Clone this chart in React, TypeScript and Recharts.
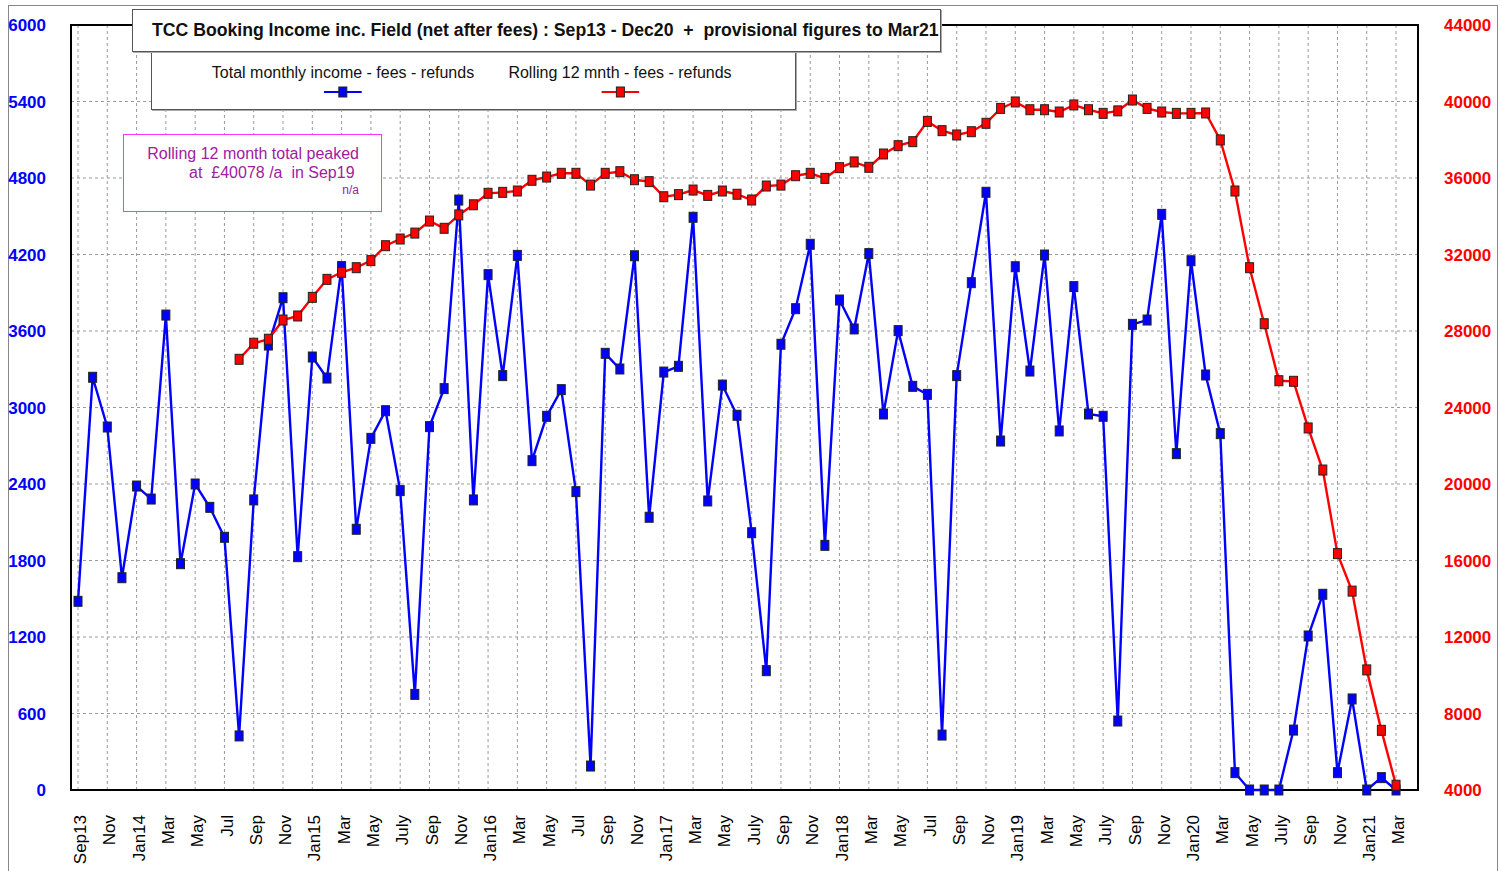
import React from "react";
import { LineChart, Line, XAxis, YAxis, CartesianGrid, ReferenceArea, Legend } from "recharts";

const months = [
  "Sep13", "Oct13", "Nov13", "Dec13",
  "Jan14", "Feb14", "Mar14", "Apr14", "May14", "Jun14", "Jul14", "Aug14", "Sep14", "Oct14", "Nov14", "Dec14",
  "Jan15", "Feb15", "Mar15", "Apr15", "May15", "Jun15", "Jul15", "Aug15", "Sep15", "Oct15", "Nov15", "Dec15",
  "Jan16", "Feb16", "Mar16", "Apr16", "May16", "Jun16", "Jul16", "Aug16", "Sep16", "Oct16", "Nov16", "Dec16",
  "Jan17", "Feb17", "Mar17", "Apr17", "May17", "Jun17", "Jul17", "Aug17", "Sep17", "Oct17", "Nov17", "Dec17",
  "Jan18", "Feb18", "Mar18", "Apr18", "May18", "Jun18", "Jul18", "Aug18", "Sep18", "Oct18", "Nov18", "Dec18",
  "Jan19", "Feb19", "Mar19", "Apr19", "May19", "Jun19", "Jul19", "Aug19", "Sep19", "Oct19", "Nov19", "Dec19",
  "Jan20", "Feb20", "Mar20", "Apr20", "May20", "Jun20", "Jul20", "Aug20", "Sep20", "Oct20", "Nov20", "Dec20",
  "Jan21", "Feb21", "Mar21",
];

const tickLabels = [
  "Sep13", "Nov",
  "Jan14", "Mar", "May", "Jul", "Sep", "Nov",
  "Jan15", "Mar", "May", "July", "Sep", "Nov",
  "Jan16", "Mar", "May", "Jul", "Sep", "Nov",
  "Jan17", "Mar", "May", "July", "Sep", "Nov",
  "Jan18", "Mar", "May", "Jul", "Sep", "Nov",
  "Jan19", "Mar", "May", "July", "Sep", "Nov",
  "Jan20", "Mar", "May", "July", "Sep", "Nov",
  "Jan21", "Mar",
];

const monthlyIncome = [
  1480, 3237, 2847, 1665,
  2384, 2282, 3725, 1775, 2400, 2217, 1982, 424, 2275, 3490, 3861, 1830,
  3396, 3231, 4105, 2045, 2758, 2975, 2348, 750, 2850, 3148, 4627, 2275,
  4042, 3250, 4193, 2583, 2931, 3140, 2340, 188, 3425, 3302, 4190, 2139,
  3278, 3323, 4492, 2267, 3176, 2939, 2018, 936, 3496, 3775, 4280, 1919,
  3843, 3616, 4207, 2949, 3603, 3166, 3103, 431, 3250, 3979, 4688, 2737,
  4104, 3286, 4196, 2816, 3948, 2949, 2931, 541, 3652, 3686, 4515, 2638,
  4151, 3255, 2795, 136, 0, 0, 0, 470, 1208, 1535, 136, 714,
  0, 97, 0,
];

const rolling12 = [
  null, null, null, null,
  null, null, null, null, null, null, null, 26520, 27360, 27570, 28575, 28785,
  29760, 30700, 31070, 31310, 31680, 32460, 32810, 33120, 33750, 33370, 34070, 34600,
  35200, 35250, 35320, 35880, 36050, 36245, 36245, 35630, 36245, 36330, 35910, 35810,
  35020, 35130, 35370, 35090, 35320, 35150, 34850, 35580, 35630, 36120, 36245, 35980,
  36540, 36840, 36560, 37255, 37690, 37900, 38960, 38475, 38250, 38420, 38860, 39640,
  39975, 39570, 39570, 39450, 39820, 39570, 39380, 39510, 40078, 39640, 39450, 39380,
  39380, 39400, 37990, 35320, 31310, 28380, 25400, 25370, 22930, 20730, 16360, 14400,
  10280, 7120, 4250,
];

const leftTicks = [0, 600, 1200, 1800, 2400, 3000, 3600, 4200, 4800, 5400, 6000];
const rightTicks = [4000, 8000, 12000, 16000, 20000, 24000, 28000, 32000, 36000, 40000, 44000];
const xTicks = tickLabels.map((_, i) => i * 2);

const titleText = "TCC Booking Income inc. Field (net after fees) : Sep13 - Dec20  +  provisional figures to Mar21";
const seriesNames = ["Total monthly income - fees - refunds", "Rolling 12 mnth - fees - refunds"];
const noteLines = ["Rolling 12 month total peaked", "at  £40078 /a  in Sep19 ", "n/a"];

const data = months.map((m, i) => ({
  idx: i,
  month: m,
  monthly: monthlyIncome[i],
  rolling: rolling12[i],
}));

const X_MIN = -0.478;
const X_MAX = 91.5;
const FONT = "'Liberation Sans', Arial, Helvetica, sans-serif";
const BLUE = "#0000FF";
const RED = "#FF0000";

const LeftTick = (props: any) => {
  const { x, y, payload } = props;
  return (
    <text x={x} y={y} dy="0.36em" textAnchor="end" fill={BLUE} fontSize={17} fontWeight="bold" fontFamily={FONT}>
      {payload.value}
    </text>
  );
};

const RightTick = (props: any) => {
  const { x, y, payload } = props;
  return (
    <text x={x} y={y} dy="0.36em" textAnchor="start" fill={RED} fontSize={17} fontWeight="bold" fontFamily={FONT}>
      {payload.value}
    </text>
  );
};

const BottomTick = (props: any) => {
  const { x, y, payload } = props;
  const label = tickLabels[Math.round(payload.value / 2)];
  return (
    <g transform={`translate(${x + 2},${y})`}>
      <text x={0} y={0} dy="0.36em" textAnchor="end" transform="rotate(-90)" fill="#000" fontSize={17} fontFamily={FONT}>
        {label}
      </text>
    </g>
  );
};

const makeDot = (fill: string) => (props: any) => {
  const { cx, cy, key, value } = props;
  if (cx == null || cy == null || value == null) return <g key={key} />;
  return <rect key={key} x={cx - 4} y={cy - 5} width={8} height={10} fill={fill} stroke="#222" strokeWidth={1} />;
};

const LegendMarker = ({ color }: { color: string }) => (
  <svg width={38} height={12} style={{ display: "block", margin: "0 auto" }}>
    <line x1={0} y1={6} x2={38} y2={6} stroke={color} strokeWidth={2} />
    <rect x={15} y={1} width={8} height={10} fill={color} stroke="#222" strokeWidth={1} />
  </svg>
);

const renderLegend = (props: any) => {
  const payload = props.payload || [];
  const ordered = seriesNames
    .map((n) => payload.find((p: any) => p.value === n))
    .filter((p: any) => p);
  const centers = [191, 468];
  return (
    <div style={{ position: "relative", width: 645, height: 58, background: "#fff", border: "1px solid #555", boxShadow: "1px 1px 0 #aaa", boxSizing: "border-box", fontFamily: FONT }}>
      {ordered.map((entry: any, i: number) => (
        <div key={i} style={{ position: "absolute", left: centers[i], top: 10, transform: "translateX(-50%)", whiteSpace: "nowrap", textAlign: "center" }}>
          <div style={{ fontSize: 16, color: "#111", lineHeight: "19px" }}>{entry.value}</div>
          <div style={{ marginTop: 4 }}>
            <LegendMarker color={entry.color} />
          </div>
        </div>
      ))}
    </div>
  );
};

export default function App() {
  return (
    <div style={{ position: "absolute", left: 0, top: 0, width: 1502, height: 871, background: "#fff", overflow: "hidden" }}>
      <div style={{ position: "absolute", left: 8, top: 5, width: 1488, height: 900, border: "1px solid #888" }} />
      <div style={{ position: "absolute", left: 0, top: 0 }}>
        <LineChart width={1502} height={871} data={data} margin={{ top: 25, right: 8, bottom: 6, left: 8 }}>
          <CartesianGrid yAxisId="left" stroke="#9a9a9a" strokeDasharray="3 3" vertical horizontal />
          <XAxis
            dataKey="idx"
            type="number"
            domain={[X_MIN, X_MAX]}
            ticks={xTicks}
            interval={0}
            height={75}
            tickSize={0}
            tickMargin={25}
            tickLine={false}
            axisLine={false}
            tick={<BottomTick />}
            allowDataOverflow
          />
          <YAxis
            yAxisId="left"
            orientation="left"
            domain={[0, 6000]}
            ticks={leftTicks}
            interval={0}
            width={63}
            tickSize={0}
            tickMargin={25}
            tickLine={false}
            axisLine={false}
            tick={<LeftTick />}
          />
          <YAxis
            yAxisId="right"
            orientation="right"
            domain={[4000, 44000]}
            ticks={rightTicks}
            interval={0}
            width={76}
            tickSize={0}
            tickMargin={26}
            tickLine={false}
            axisLine={false}
            tick={<RightTick />}
          />
          <ReferenceArea
            yAxisId="left"
            x1={X_MIN}
            x2={X_MAX}
            y1={0}
            y2={6000}
            fill="none"
            fillOpacity={0}
            stroke="#000"
            strokeWidth={2}
            ifOverflow="visible"
          />
          <Legend
            verticalAlign="middle"
            align="center"
            layout="horizontal"
            content={renderLegend}
            wrapperStyle={{ left: 151, top: 52, width: 645, height: 58 }}
          />
          <Line
            yAxisId="left"
            dataKey="monthly"
            name={seriesNames[0]}
            type="linear"
            stroke={BLUE}
            strokeWidth={2.4}
            dot={makeDot(BLUE)}
            activeDot={false}
            isAnimationActive={false}
          />
          <Line
            yAxisId="right"
            dataKey="rolling"
            name={seriesNames[1]}
            type="linear"
            stroke={RED}
            strokeWidth={2.4}
            dot={makeDot(RED)}
            activeDot={false}
            connectNulls={false}
            isAnimationActive={false}
          />
        </LineChart>
      </div>
      <div
        style={{
          position: "absolute",
          left: 132,
          top: 9,
          width: 809,
          height: 43,
          boxSizing: "border-box",
          border: "1px solid #555",
          boxShadow: "1px 1px 0 #aaa",
          background: "#fff",
          fontFamily: FONT,
          fontWeight: "bold",
          fontSize: 17.65,
          whiteSpace: "pre",
          lineHeight: "41px",
          paddingLeft: 19,
          color: "#111",
        }}
      >
        {titleText}
      </div>
      <div
        style={{
          position: "absolute",
          left: 123,
          top: 134,
          width: 259,
          height: 78,
          boxSizing: "border-box",
          border: "1px solid #FF33FF",
          background: "#fff",
          fontFamily: FONT,
          color: "#A020A0",
          textAlign: "right",
          paddingRight: 22,
          paddingTop: 9,
          whiteSpace: "pre",
        }}
      >
        <div style={{ fontSize: 16, lineHeight: "19px" }}>{noteLines[0]}</div>
        <div style={{ fontSize: 16, lineHeight: "19px" }}>{noteLines[1]}</div>
        <div style={{ fontSize: 12, lineHeight: "16px" }}>{noteLines[2]}</div>
      </div>
    </div>
  );
}
